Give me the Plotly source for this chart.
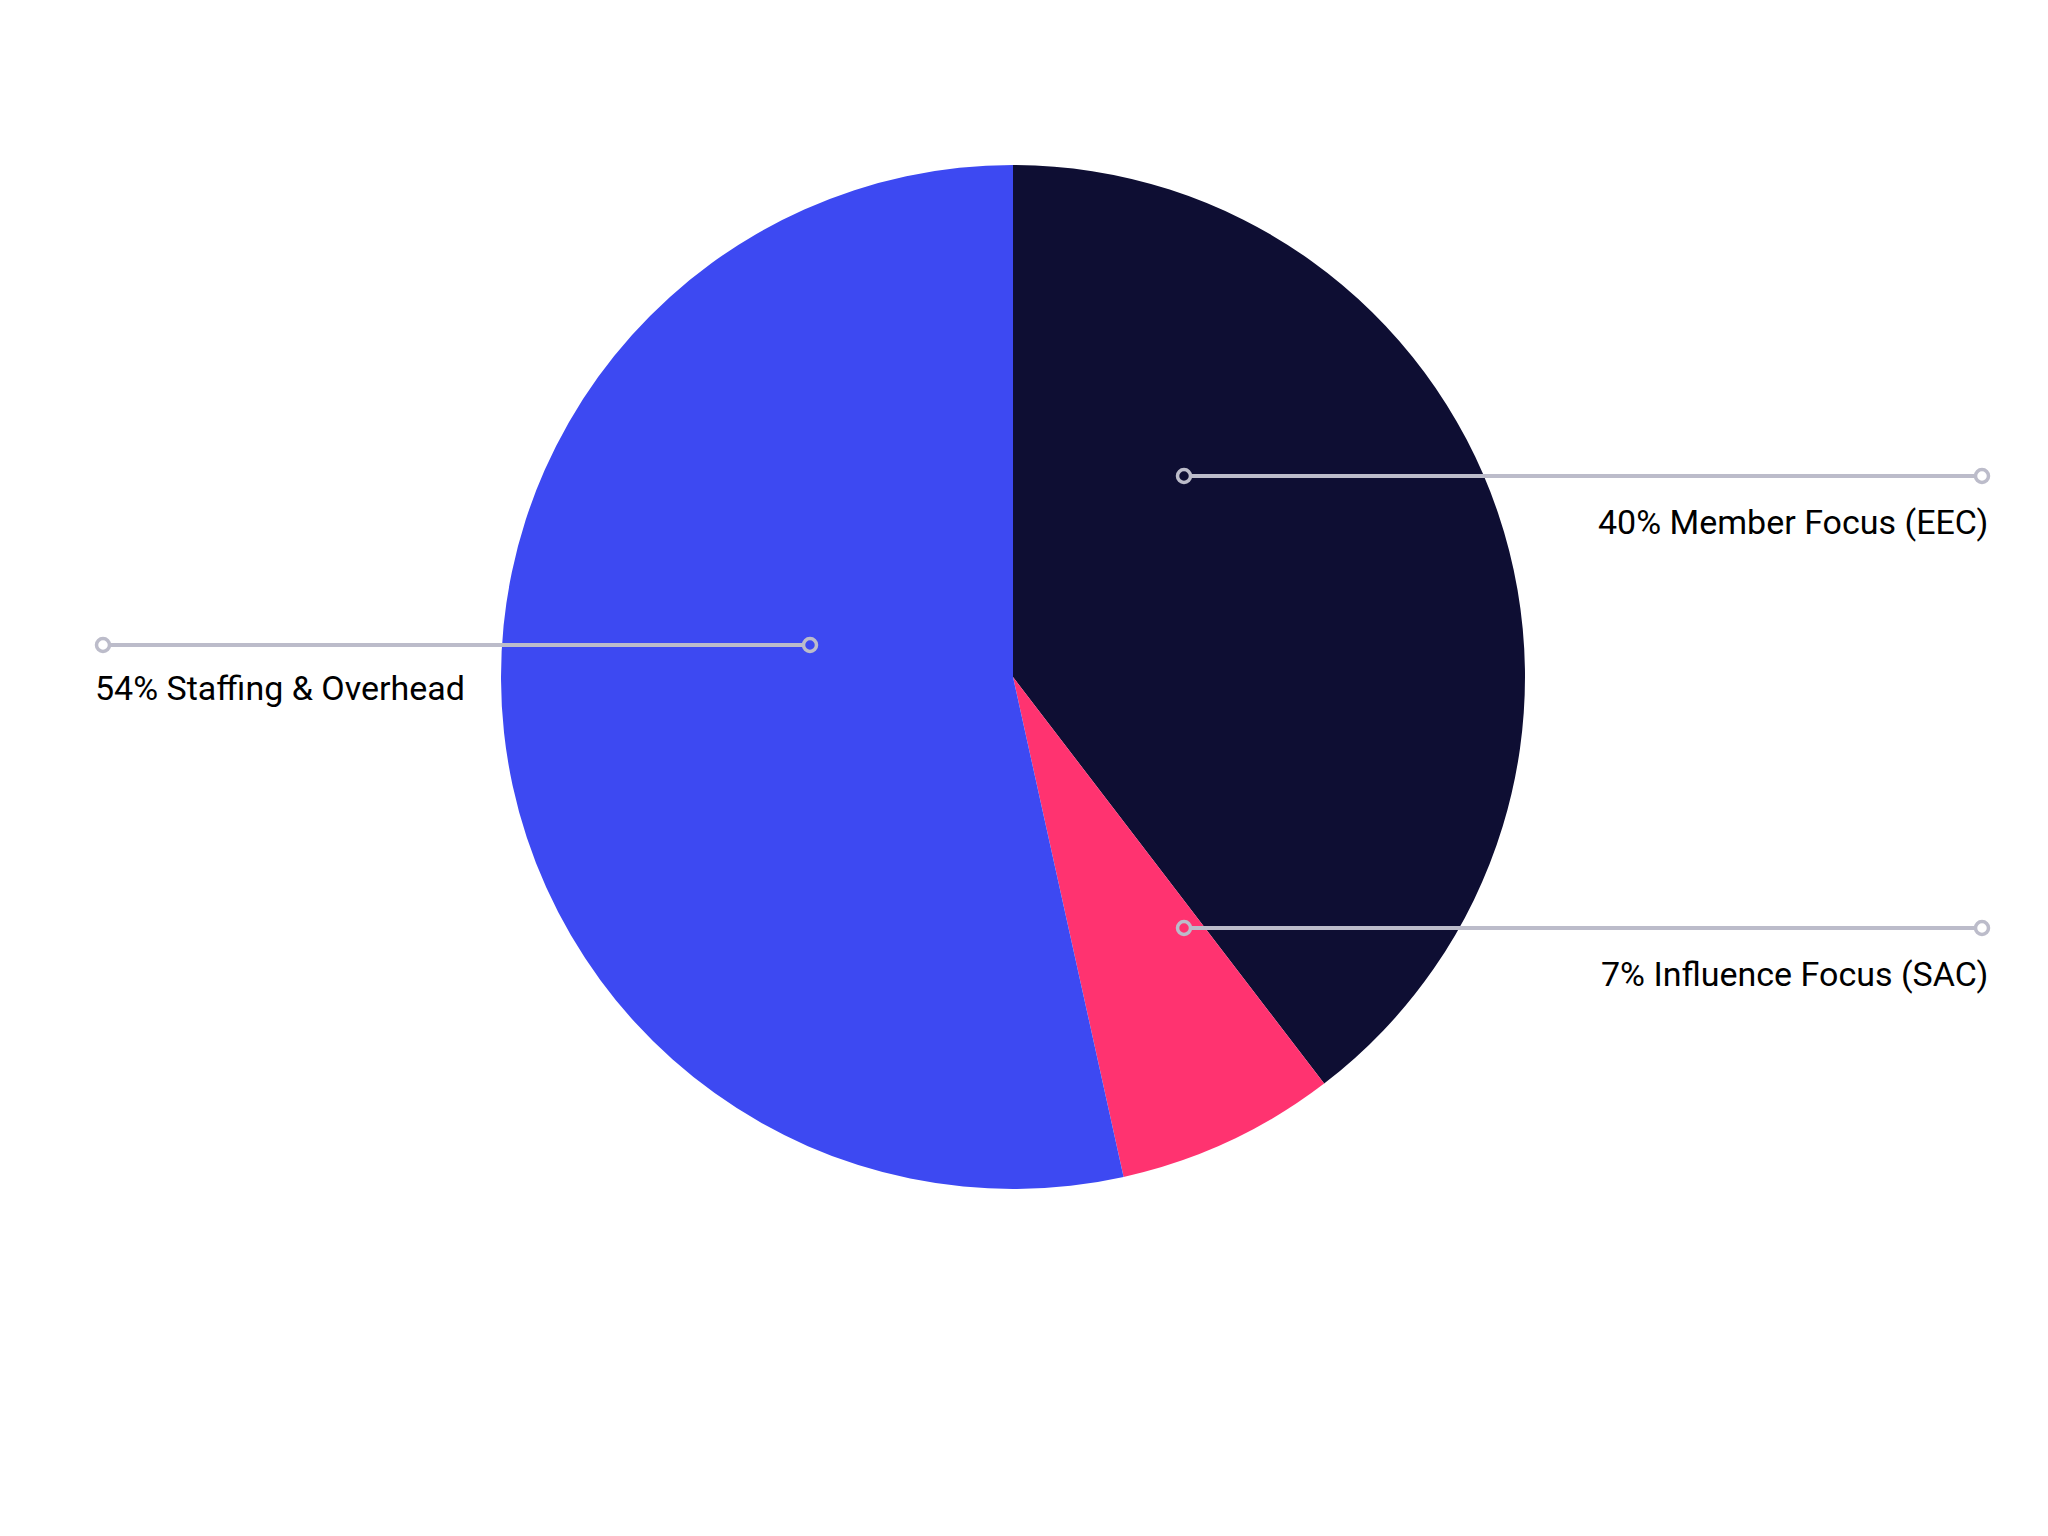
import plotly.graph_objects as go

categories = ["Member Focus (EEC)", "Influence Focus (SAC)", "Staffing & Overhead"]
values = [40, 7, 54]
colors = ["#0E0E33", "#FF3370", "#3D49F2"]

W, H = 2048, 1536
OFF = 8  # page body margin offset
cx, cy, r = 1013 - OFF, 677 - OFF, 512

fig = go.Figure()
fig.add_trace(go.Pie(
    labels=categories, values=values, sort=False, direction="clockwise", rotation=0,
    marker=dict(colors=colors, line=dict(width=0)),
    textinfo="none", hoverinfo="label+percent", showlegend=False,
    domain=dict(x=[(cx - r) / W, (cx + r) / W], y=[1 - (cy + r) / H, 1 - (cy - r) / H]),
))

def px(x):
    return (x - OFF) / W

def py(y):
    return 1 - (y - OFF) / H

leaders = [
    (1184, 1982, 476, 1990, 522, "right"),
    (1184, 1982, 928, 1990, 974, "right"),
    (103, 810, 645, 93, 688, "left"),
]
pct = [f"{v}%" for v in values]
cr = 6.5
lc = "#BCBCCA"
for (x0, x1, y, tx, ty, anchor), cat, p in zip(leaders, categories, pct):
    fig.add_shape(type="line", xref="paper", yref="paper", layer="above",
                  x0=px(x0 + cr), x1=px(x1 - cr), y0=py(y), y1=py(y),
                  line=dict(color=lc, width=4))
    for xc in (x0, x1):
        fig.add_shape(type="circle", xref="paper", yref="paper", layer="above",
                      x0=px(xc - cr), x1=px(xc + cr), y0=py(y - cr), y1=py(y + cr),
                      line=dict(color=lc, width=3.5), fillcolor="rgba(0,0,0,0)")
    fig.add_annotation(
        x=px(tx), y=py(ty), xref="paper", yref="paper", text=f"{p} {cat}", showarrow=False,
        xanchor=anchor, yanchor="middle",
        font=dict(family="Roboto", size=34, color="#000000"),
    )

fig.update_layout(
    width=W, height=H, margin=dict(l=0, r=0, t=0, b=0),
    paper_bgcolor="white", plot_bgcolor="rgba(0,0,0,0)",
)
fig.write_html("out.html")
